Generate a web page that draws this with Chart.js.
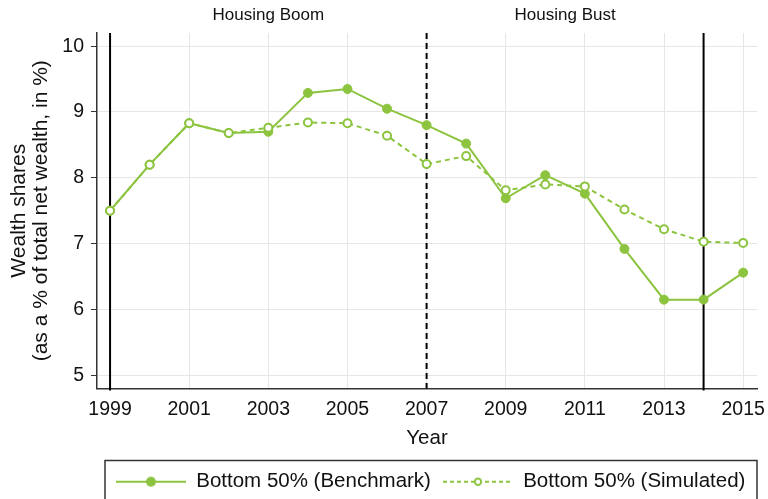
<!DOCTYPE html>
<html>
<head>
<meta charset="utf-8">
<script src="https://cdn.jsdelivr.net/npm/chart.js@4/dist/chart.umd.min.js"></script>
<style>
  html, body { margin: 0; padding: 0; background: #fff; }
  #wrap { width: 768px; height: 499px; }
</style>
</head>
<body>
<div id="wrap"><canvas id="wealthChart"></canvas></div>
<script>
// Data
const years = [1999, 2000, 2001, 2002, 2003, 2004, 2005, 2006, 2007, 2008, 2009, 2010, 2011, 2012, 2013, 2014, 2015];
const benchmark = [7.50, 8.20, 8.83, 8.68, 8.70, 9.29, 9.35, 9.05, 8.80, 8.52, 7.69, 8.04, 7.76, 6.92, 6.15, 6.15, 6.56];
const simulated = [7.50, 8.20, 8.83, 8.68, 8.76, 8.84, 8.83, 8.64, 8.21, 8.33, 7.81, 7.90, 7.87, 7.52, 7.22, 7.03, 7.01];
const seriesNames = ['Bottom 50% (Benchmark)', 'Bottom 50% (Simulated)'];
const xTicks = [1999, 2001, 2003, 2005, 2007, 2009, 2011, 2013, 2015];
const yTicks = [5, 6, 7, 8, 9, 10];
const solidMarkers = [1999, 2014];
const dashedMarkers = [2007];
const periodLabels = ['Housing Boom', 'Housing Bust'];
const periodCenters = [2003, 2010.5];

const GREEN = '#8cc43f';
const FONT = '"Liberation Sans", Arial, Helvetica, sans-serif';

/**
 * Small canvas used as the legend symbol: line with a marker in the middle
 */
function legendSymbol(dashed, filled) {
  const c = document.createElement('canvas');
  c.width = 70;
  c.height = 12;
  const g = c.getContext('2d');
  g.strokeStyle = GREEN;
  g.lineWidth = 2;
  if (dashed) g.setLineDash([4, 3]);
  g.beginPath();
  g.moveTo(0, 6);
  g.lineTo(70, 6);
  g.stroke();
  g.setLineDash([]);
  g.beginPath();
  g.arc(35, 6, filled ? 4 : 3.2, 0, Math.PI * 2);
  g.fillStyle = filled ? GREEN : '#fff';
  g.fill();
  g.stroke();
  return c;
}

// Reference lines, period labels and legend frame
const decorations = {
  id: 'decorations',
  afterLayout(chart) {
    // legend sits in a frame that starts under the plot and runs past the right edge
    const lg = chart.legend;
    lg.left = 104;
    lg.right = 800;
    lg.top += 3;
    lg.bottom += 3;
  },
  beforeDatasetsDraw(chart) {
    const ctx = chart.ctx;
    const x = chart.scales.x;
    const area = chart.chartArea;
    ctx.save();
    ctx.strokeStyle = '#000';
    ctx.lineWidth = 2;
    solidMarkers.forEach(yr => {
      const px = x.getPixelForValue(yr);
      ctx.beginPath();
      ctx.moveTo(px, area.top);
      ctx.lineTo(px, area.bottom + 2);
      ctx.stroke();
    });
    ctx.setLineDash([6, 4]);
    dashedMarkers.forEach(yr => {
      const px = x.getPixelForValue(yr);
      ctx.beginPath();
      ctx.moveTo(px, area.top);
      ctx.lineTo(px, area.bottom);
      ctx.stroke();
    });
    ctx.restore();
  },
  afterDraw(chart) {
    const ctx = chart.ctx;
    const x = chart.scales.x;
    ctx.save();
    ctx.fillStyle = '#111';
    ctx.font = '17px ' + FONT;
    ctx.textAlign = 'center';
    ctx.textBaseline = 'middle';
    periodLabels.forEach((label, i) => {
      ctx.fillText(label, x.getPixelForValue(periodCenters[i]), 15);
    });
    // legend frame; anything past its right side is hidden like in the original
    const lg = chart.legend;
    ctx.fillStyle = '#fff';
    ctx.fillRect(758, lg.top, 20, 60);
    ctx.strokeStyle = '#333';
    ctx.lineWidth = 1.5;
    ctx.strokeRect(105, lg.top + 1, 652, 60);
    ctx.restore();
  }
};

const ctx = document.getElementById('wealthChart').getContext('2d');

new Chart(ctx, {
  type: 'line',
  data: {
    datasets: [
      {
        label: seriesNames[0],
        data: years.map((yr, i) => ({x: yr, y: benchmark[i]})),
        borderColor: GREEN,
        backgroundColor: GREEN,
        borderWidth: 2,
        pointRadius: 4.5,
        pointBorderWidth: 1,
        pointBackgroundColor: GREEN,
        tension: 0,
        order: 2,
        legendImg: legendSymbol(false, true)
      },
      {
        label: seriesNames[1],
        data: years.map((yr, i) => ({x: yr, y: simulated[i]})),
        borderColor: GREEN,
        backgroundColor: '#fff',
        borderWidth: 2,
        borderDash: [5, 4],
        pointRadius: 4,
        pointBorderWidth: 2,
        pointBackgroundColor: '#fff',
        tension: 0,
        order: 1,
        legendImg: legendSymbol(true, false)
      }
    ]
  },
  options: {
    responsive: true,
    maintainAspectRatio: false,
    animation: false,
    layout: {
      padding: { top: 33, right: 11, left: 0, bottom: 0 }
    },
    plugins: {
      tooltip: { enabled: false },
      legend: {
        position: 'bottom',
        align: 'start',
        labels: {
          usePointStyle: true,
          pointStyleWidth: 70,
          padding: 12,
          color: '#111',
          font: { family: FONT, size: 20.5 },
          sort: (a, b) => a.datasetIndex - b.datasetIndex,
          generateLabels(chart) {
            return chart.data.datasets.map((ds, i) => ({
              text: ds.label,
              pointStyle: ds.legendImg,
              fillStyle: GREEN,
              strokeStyle: GREEN,
              lineWidth: 0,
              hidden: false,
              datasetIndex: i,
              fontColor: '#111'
            }));
          }
        }
      }
    },
    scales: {
      x: {
        type: 'linear',
        min: 1998.67,
        max: 2015.35,
        afterBuildTicks(scale) {
          scale.ticks = xTicks.map(v => ({value: v}));
        },
        afterFit(scale) {
          scale.height = 68;
          scale.paddingLeft = 0;
          scale.paddingRight = 0;
        },
        grid: {
          color: '#e6e6e6',
          lineWidth: 1,
          drawTicks: false
        },
        border: { color: '#333', width: 1.5 },
        ticks: {
          padding: 9,
          color: '#111',
          font: { family: FONT, size: 19.5 },
          callback: v => String(v),
          maxRotation: 0
        },
        title: {
          display: true,
          text: 'Year',
          color: '#111',
          font: { family: FONT, size: 20.5 },
          padding: { top: 0, bottom: 6 }
        }
      },
      y: {
        min: 4.8,
        max: 10.2,
        afterBuildTicks(scale) {
          scale.ticks = yTicks.map(v => ({value: v}));
        },
        afterFit(scale) {
          scale.width = 97;
        },
        grid: {
          color: '#e6e6e6',
          lineWidth: 1,
          tickLength: 6,
          tickColor: '#333'
        },
        border: { color: '#333', width: 1.5 },
        ticks: {
          padding: 7,
          color: '#111',
          font: { family: FONT, size: 19.5 },
          callback: v => String(v)
        },
        title: {
          display: true,
          text: ['Wealth shares', '(as a % of total net wealth, in %)'],
          color: '#111',
          font: { family: FONT, size: 21, lineHeight: 1.05 },
          padding: { top: 8, bottom: 0 }
        }
      }
    }
  },
  plugins: [decorations]
});
</script>
</body>
</html>
